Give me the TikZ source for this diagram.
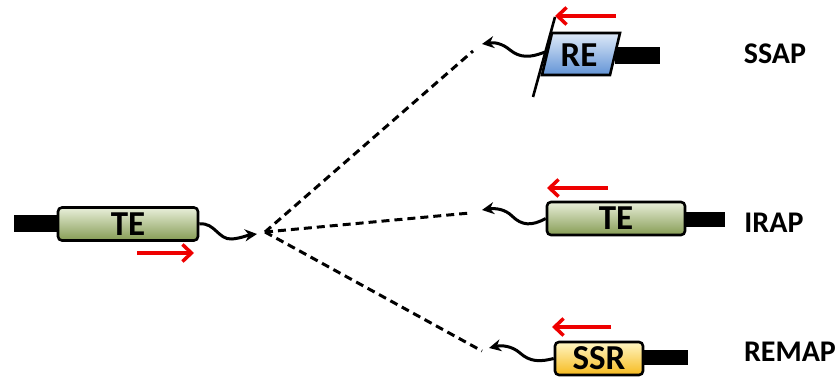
\documentclass[tikz,border=0pt]{standalone}
\usepackage{fontspec}
\setmainfont{Carlito}
\usepackage{xcolor}
\definecolor{telight}{RGB}{233,239,218}
\definecolor{tedark}{RGB}{134,156,84}
\definecolor{relight}{RGB}{222,233,248}
\definecolor{redark}{RGB}{98,148,214}
\definecolor{ssrlight}{RGB}{255,246,196}
\definecolor{ssrdark}{RGB}{246,186,30}
\definecolor{strandred}{RGB}{238,0,0}
\usetikzlibrary{arrows.meta, positioning}

\begin{document}
\begin{tikzpicture}[x=1pt, y=-1pt, >=Stealth,
    element/.style={draw=black, line width=2.6pt, rounded corners=4pt, minimum height=33pt, inner sep=0pt, font=\fontsize{35}{35}\selectfont\bfseries},
    tail/.style={fill=black, inner sep=0pt, minimum height=15pt},
    strand/.style={strandred, line width=3.5pt, -{Straight Barb[length=9pt,width=17pt]}},
    transcript/.style={line width=3pt, -{Stealth[length=12pt,width=12pt]}},
    link/.style={line width=3pt, dash pattern=on 8pt off 5pt},
    family/.style={font=\fontsize{30}{30}\selectfont\bfseries}]
    \useasboundingbox (0,0) rectangle (839,379);

    % source element
    \node[tail, minimum width=46pt, minimum height=17pt] (tetail) at (37,224) {};
    \node[element, top color=telight, bottom color=tedark, minimum width=140pt] (te) at (128,224) {TE};
    \coordinate (tetip) at (257,234);
    \draw[transcript] (te.east) .. controls (215,222) and (218,240) .. (232,239) .. controls (242,238) and (248,235) .. (tetip);
    \coordinate (testart) at (137,253);
    \coordinate (teend) at (194,253);
    \draw[strand] (testart) -- (teend);

    % branches
    \coordinate (hub) at (265,232);
    \coordinate (ssapend) at (473,51);
    \coordinate (irapend) at (470,213);
    \coordinate (remapend) at (482,351);
    \draw[link] (hub) -- (ssapend);
    \draw[link] (hub) -- (irapend);
    \draw[link] (hub) -- (remapend);

    % SSAP
    \node[tail, minimum width=45pt, minimum height=17pt] (retail) at (637,56) {};
    \shade[top color=relight, bottom color=redark, draw=black, line width=2.6pt] (552,33) -- (620,33) -- (610,75) -- (542,75) -- cycle;
    \node[font=\fontsize{35}{35}\selectfont\bfseries] (re) at (579,55) {RE};
    \draw[line width=2.6pt] (555,17) -- (533,97);
    \coordinate (retip) at (482,44);
    \draw[transcript] (545,52) .. controls (530,58) and (520,58) .. (510,50) .. controls (503,44) and (495,42) .. (retip);
    \coordinate (restart) at (616,16);
    \coordinate (reend) at (555,16);
    \draw[strand] (restart) -- (reend);
    \node[family] (ssap) at (775,54) {SSAP};

    % IRAP
    \node[tail, minimum width=42pt] (irtail) at (704,220) {};
    \node[element, top color=telight, bottom color=tedark, minimum width=138pt] (irte) at (616,218.5) {TE};
    \coordinate (irtip) at (482,210);
    \draw[transcript] (irte.west) .. controls (532,226) and (522,226) .. (512,216) .. controls (505,209) and (495,208) .. (irtip);
    \coordinate (irstart) at (608,188);
    \coordinate (irend) at (547,188);
    \draw[strand] (irstart) -- (irend);
    \node[family] (irap) at (774,223) {IRAP};

    % REMAP
    \node[tail, minimum width=45pt] (ssrtail) at (665,357.5) {};
    \node[element, top color=ssrlight, bottom color=ssrdark, minimum width=88pt] (ssr) at (599,358.5) {SSR};
    \coordinate (ssrtip) at (489,348);
    \draw[transcript] (ssr.west) .. controls (540,362) and (530,362) .. (520,353) .. controls (512,346) and (502,345) .. (ssrtip);
    \coordinate (ssrstart) at (611,327);
    \coordinate (ssrend) at (552,327);
    \draw[strand] (ssrstart) -- (ssrend);
    \node[family] (remap) at (790,352) {REMAP};
\end{tikzpicture}
\end{document}
